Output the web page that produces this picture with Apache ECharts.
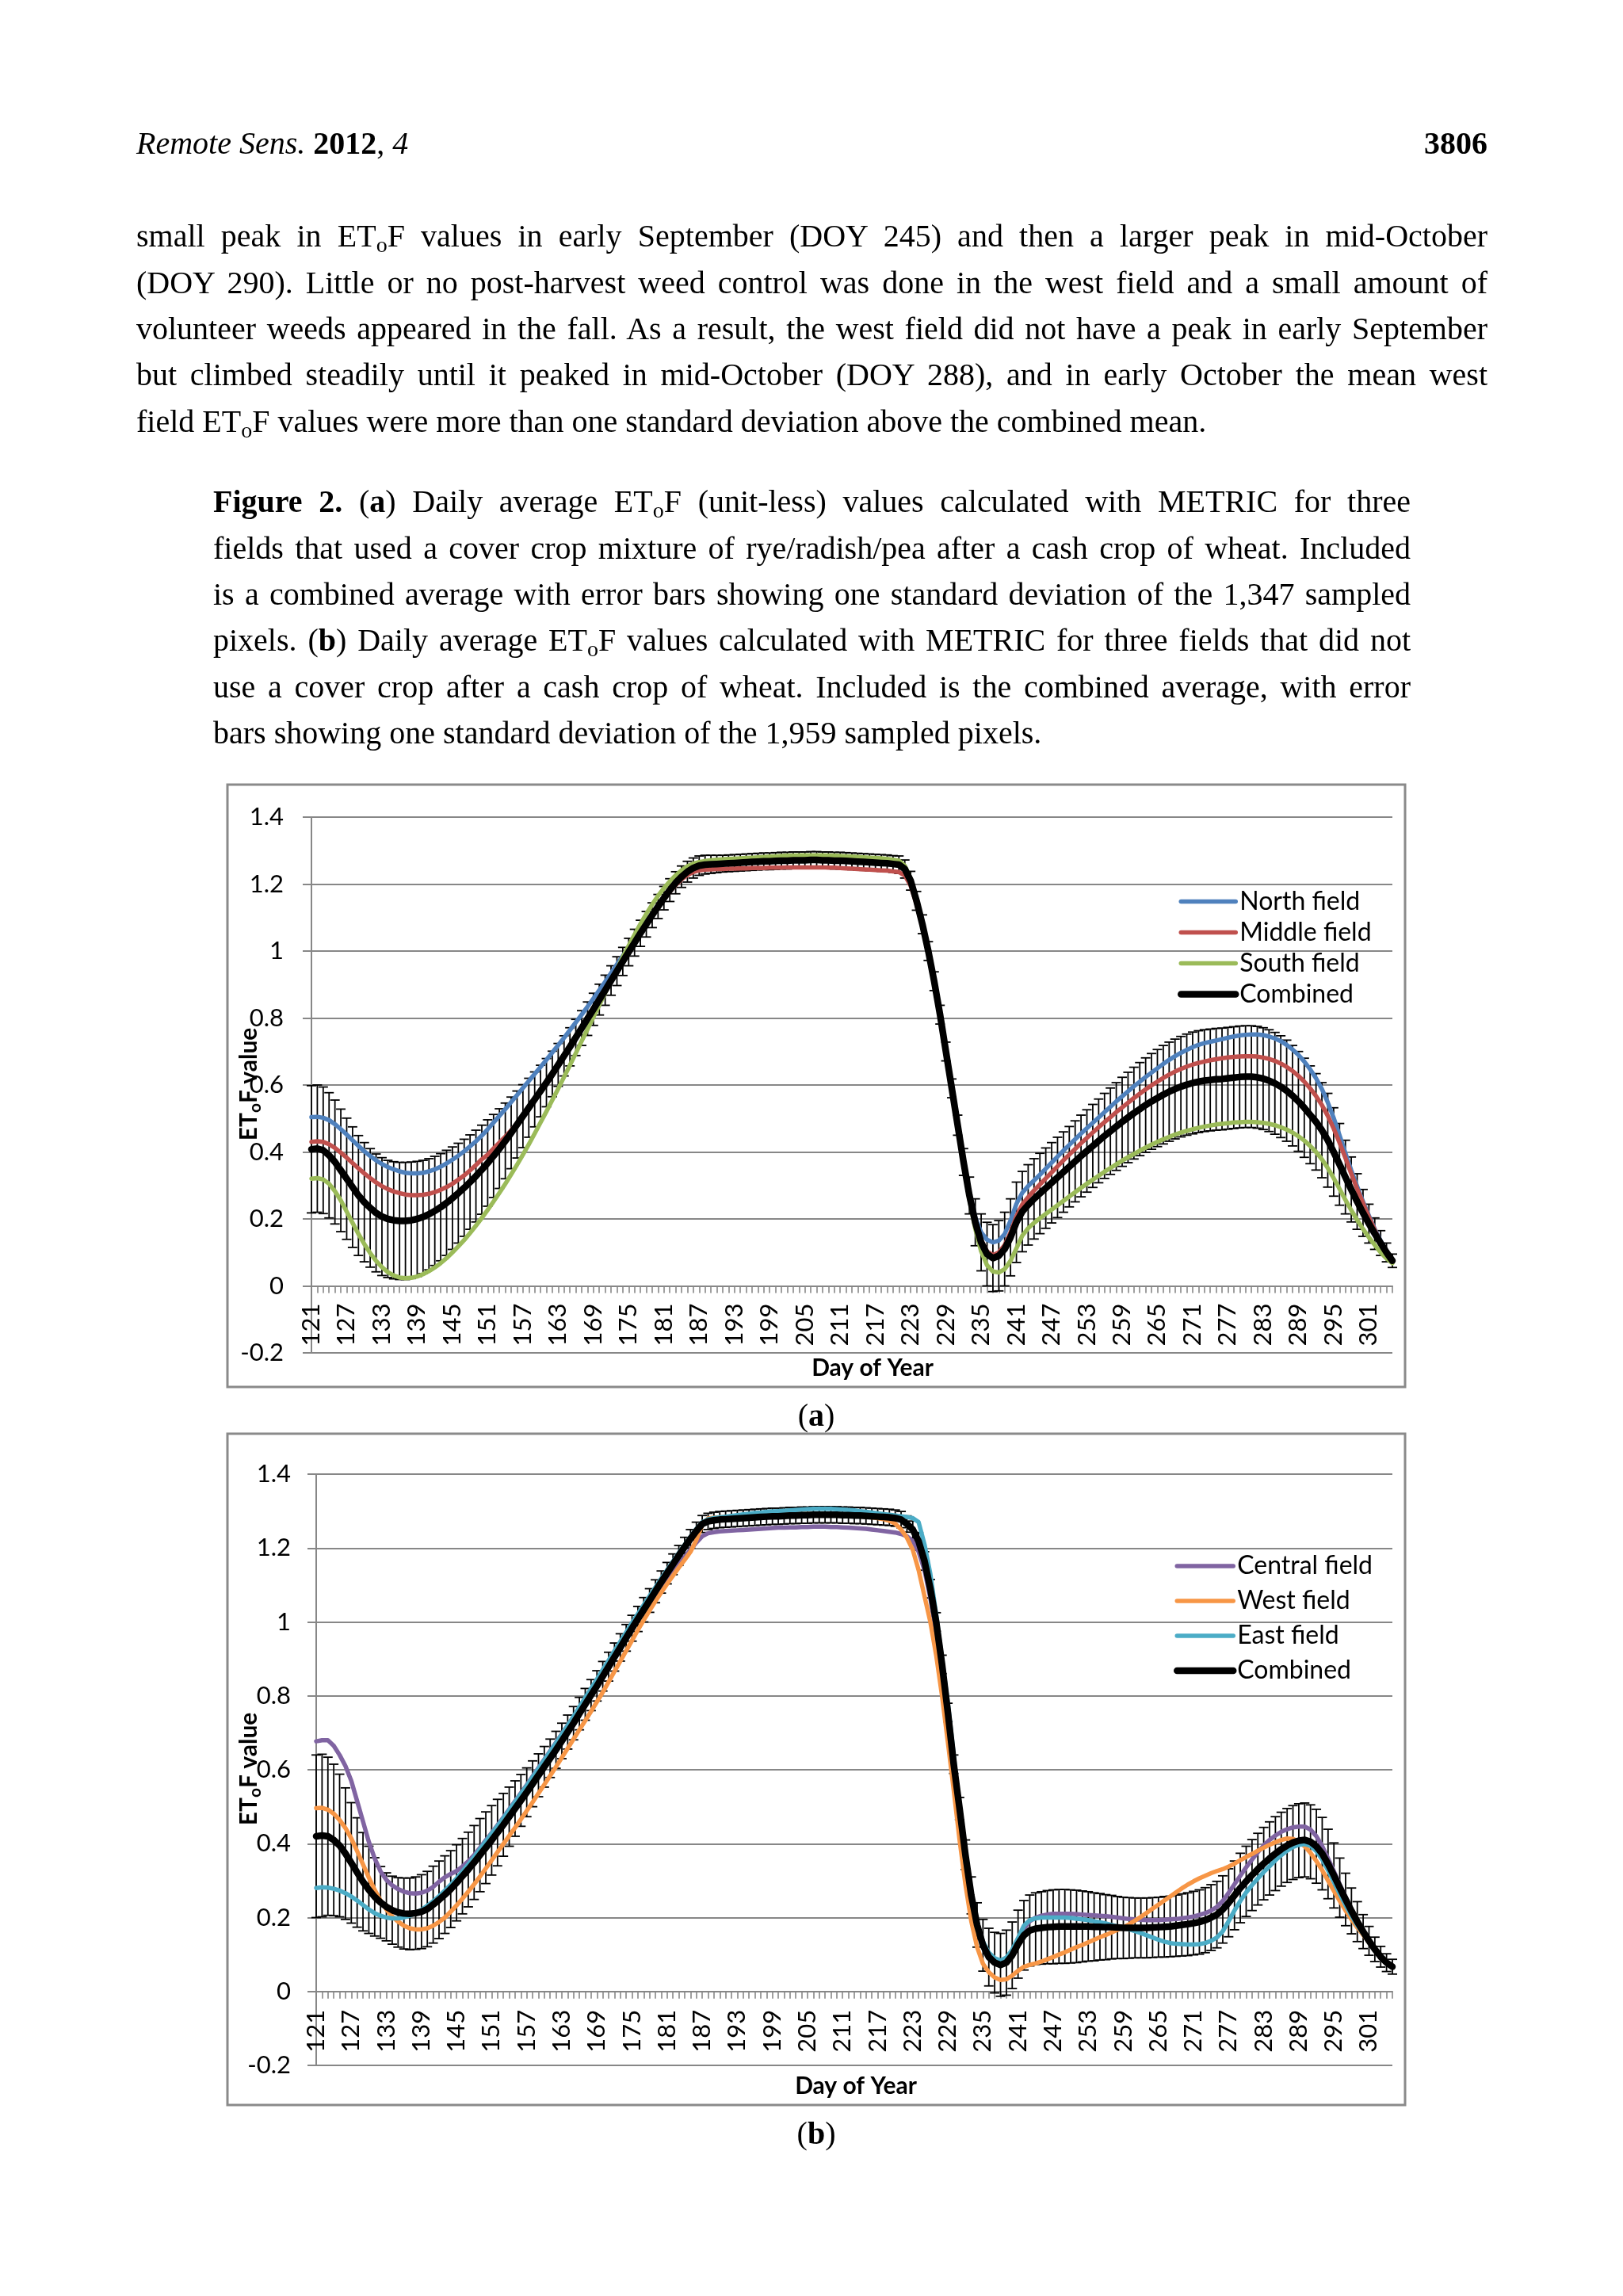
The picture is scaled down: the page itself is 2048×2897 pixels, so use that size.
<!DOCTYPE html>
<html>
<head>
<meta charset="utf-8">
<script src="https://cdn.jsdelivr.net/npm/echarts@6/dist/echarts.min.js"></script>
<style>
html,body{margin:0;padding:0;background:#fff;}
body{width:2048px;height:2897px;position:relative;overflow:hidden;}
#chart{position:absolute;left:0;top:0;width:2048px;height:2897px;}
.t{position:absolute;font-family:"Liberation Serif","Times New Roman",serif;font-size:40px;line-height:58px;color:#000;}
.j{text-align:justify;text-align-last:justify;}
.nl{text-align:left;text-align-last:left;}
.sub{font-size:0.7em;position:relative;top:0.25em;}
.p{left:172px;width:1705px;}
.c{left:269px;width:1511px;}
</style>
</head>
<body>
<div id="chart"></div>
<div class="t nl" style="left:172px;top:152px;"><i>Remote Sens.</i> <b>2012</b>, <i>4</i></div>
<div class="t" style="left:172px;width:1705px;top:152px;text-align:right;"><b>3806</b></div>

<div class="t p j" style="top:269px;">small peak in ET<span class="sub">o</span>F values in early September (DOY 245) and then a larger peak in mid-October</div>
<div class="t p j" style="top:328px;">(DOY 290). Little or no post-harvest weed control was done in the west field and a small amount of</div>
<div class="t p j" style="top:386px;">volunteer weeds appeared in the fall. As a result, the west field did not have a peak in early September</div>
<div class="t p j" style="top:444px;">but climbed steadily until it peaked in mid-October (DOY 288), and in early October the mean west</div>
<div class="t p nl" style="top:503px;">field ET<span class="sub">o</span>F values were more than one standard deviation above the combined mean.</div>

<div class="t c j" style="top:604px;"><b>Figure 2.</b> (<b>a</b>) Daily average ET<span class="sub">o</span>F (unit-less) values calculated with METRIC for three</div>
<div class="t c j" style="top:663px;">fields that used a cover crop mixture of rye/radish/pea after a cash crop of wheat. Included</div>
<div class="t c j" style="top:721px;">is a combined average with error bars showing one standard deviation of the 1,347 sampled</div>
<div class="t c j" style="top:779px;">pixels. (<b>b</b>) Daily average ET<span class="sub">o</span>F values calculated with METRIC for three fields that did not</div>
<div class="t c j" style="top:838px;">use a cover crop after a cash crop of wheat. Included is the combined average, with error</div>
<div class="t c nl" style="top:896px;">bars showing one standard deviation of the 1,959 sampled pixels.</div>

<div class="t" style="left:930px;width:200px;top:1757px;text-align:center;">(<b>a</b>)</div>
<div class="t" style="left:930px;width:200px;top:2663px;text-align:center;">(<b>b</b>)</div>

<script>
// ---------- categories (Day of Year) ----------
const days = [
121,122,123,124,125,126,127,128,129,130,
131,132,133,134,135,136,137,138,139,140,
141,142,143,144,145,146,147,148,149,150,
151,152,153,154,155,156,157,158,159,160,
161,162,163,164,165,166,167,168,169,170,
171,172,173,174,175,176,177,178,179,180,
181,182,183,184,185,186,187,188,189,190,
191,192,193,194,195,196,197,198,199,200,
201,202,203,204,205,206,207,208,209,210,
211,212,213,214,215,216,217,218,219,220,
221,222,223,224,225,226,227,228,229,230,
231,232,233,234,235,236,237,238,239,240,
241,242,243,244,245,246,247,248,249,250,
251,252,253,254,255,256,257,258,259,260,
261,262,263,264,265,266,267,268,269,270,
271,272,273,274,275,276,277,278,279,280,
281,282,283,284,285,286,287,288,289,290,
291,292,293,294,295,296,297,298,299,300,
301,302,303,304,305];

const yTicks = [-0.2, 0, 0.2, 0.4, 0.6, 0.8, 1, 1.2, 1.4];

// ---------- Chart (a) ----------
const northA = [
0.504,0.505,0.502,0.495,0.483,0.468,0.452,0.435,0.418,0.402,
0.388,0.375,0.364,0.355,0.348,0.342,0.338,0.336,0.336,0.338,
0.342,0.348,0.356,0.366,0.377,0.389,0.402,0.417,0.432,0.449,
0.468,0.488,0.508,0.528,0.549,0.57,0.591,0.612,0.633,0.654,
0.675,0.697,0.719,0.741,0.764,0.787,0.81,0.834,0.858,0.883,
0.908,0.934,0.96,0.986,1.012,1.038,1.063,1.088,1.112,1.136,
1.158,1.18,1.2,1.218,1.234,1.246,1.255,1.26,1.262,1.264,
1.266,1.267,1.268,1.269,1.27,1.271,1.272,1.273,1.274,1.275,
1.276,1.276,1.277,1.277,1.278,1.278,1.278,1.278,1.277,1.277,
1.276,1.275,1.274,1.273,1.272,1.27,1.269,1.268,1.267,1.265,
1.262,1.248,1.212,1.152,1.082,1.002,0.912,0.812,0.702,0.592,
0.482,0.375,0.28,0.205,0.16,0.138,0.13,0.135,0.155,0.195,
0.245,0.278,0.298,0.315,0.332,0.35,0.368,0.386,0.404,0.421,
0.438,0.455,0.471,0.487,0.503,0.519,0.535,0.551,0.566,0.581,
0.596,0.61,0.624,0.637,0.65,0.663,0.675,0.686,0.696,0.705,
0.713,0.72,0.725,0.729,0.733,0.737,0.741,0.745,0.748,0.75,
0.751,0.751,0.749,0.745,0.739,0.731,0.72,0.706,0.69,0.67,
0.647,0.62,0.588,0.548,0.502,0.45,0.397,0.345,0.297,0.252,
0.21,0.17,0.135,0.103,0.078];

const middleA = [
0.43,0.432,0.43,0.423,0.412,0.398,0.383,0.367,0.351,0.336,
0.322,0.309,0.298,0.289,0.282,0.277,0.273,0.271,0.271,0.272,
0.275,0.28,0.287,0.295,0.305,0.317,0.33,0.345,0.361,0.378,
0.392,0.41,0.428,0.446,0.465,0.485,0.507,0.53,0.554,0.578,
0.603,0.629,0.656,0.683,0.711,0.739,0.767,0.795,0.823,0.852,
0.88,0.909,0.937,0.966,0.994,1.022,1.05,1.077,1.104,1.13,
1.154,1.177,1.197,1.214,1.227,1.236,1.241,1.243,1.244,1.245,
1.245,1.246,1.246,1.247,1.247,1.248,1.248,1.248,1.249,1.249,
1.249,1.25,1.25,1.25,1.25,1.25,1.25,1.25,1.249,1.249,
1.248,1.247,1.246,1.245,1.244,1.243,1.242,1.241,1.24,1.238,
1.236,1.226,1.195,1.14,1.072,0.994,0.905,0.806,0.697,0.588,
0.478,0.37,0.272,0.194,0.137,0.103,0.092,0.1,0.122,0.16,
0.208,0.243,0.265,0.285,0.303,0.321,0.339,0.357,0.375,0.392,
0.409,0.426,0.442,0.458,0.474,0.489,0.504,0.519,0.533,0.547,
0.561,0.574,0.587,0.599,0.61,0.621,0.631,0.64,0.648,0.655,
0.661,0.666,0.67,0.674,0.677,0.68,0.682,0.684,0.685,0.686,
0.686,0.685,0.682,0.678,0.672,0.664,0.654,0.642,0.627,0.61,
0.59,0.567,0.54,0.508,0.47,0.428,0.382,0.335,0.29,0.247,
0.206,0.167,0.131,0.1,0.075];

const southA = [
0.32,0.322,0.318,0.305,0.283,0.255,0.222,0.188,0.155,0.125,
0.098,0.075,0.056,0.041,0.031,0.025,0.023,0.024,0.028,0.035,
0.044,0.055,0.068,0.083,0.1,0.118,0.137,0.158,0.18,0.203,
0.227,0.252,0.278,0.305,0.333,0.362,0.392,0.423,0.455,0.488,
0.521,0.555,0.589,0.624,0.659,0.695,0.731,0.767,0.803,0.839,
0.875,0.911,0.947,0.982,1.016,1.049,1.081,1.111,1.139,1.165,
1.188,1.208,1.226,1.241,1.253,1.261,1.266,1.269,1.271,1.273,
1.274,1.275,1.276,1.277,1.278,1.279,1.28,1.281,1.282,1.283,
1.284,1.285,1.285,1.286,1.286,1.286,1.286,1.286,1.285,1.285,
1.284,1.283,1.282,1.281,1.28,1.279,1.278,1.277,1.275,1.273,
1.27,1.255,1.216,1.155,1.083,1.002,0.911,0.81,0.699,0.587,
0.475,0.362,0.258,0.17,0.103,0.062,0.043,0.04,0.05,0.075,
0.112,0.15,0.172,0.188,0.202,0.215,0.228,0.241,0.254,0.267,
0.28,0.293,0.305,0.317,0.329,0.341,0.352,0.363,0.374,0.384,
0.394,0.404,0.413,0.422,0.43,0.438,0.445,0.452,0.458,0.463,
0.468,0.472,0.476,0.479,0.482,0.484,0.486,0.488,0.489,0.49,
0.49,0.489,0.487,0.484,0.48,0.474,0.467,0.458,0.447,0.434,
0.418,0.4,0.378,0.352,0.322,0.29,0.257,0.226,0.197,0.17,
0.145,0.122,0.1,0.082,0.068];

const combinedA = [
0.408,0.41,0.405,0.39,0.37,0.345,0.32,0.295,0.27,0.25,
0.233,0.218,0.207,0.2,0.196,0.194,0.194,0.196,0.2,0.206,
0.214,0.224,0.235,0.248,0.262,0.277,0.293,0.31,0.328,0.347,
0.367,0.388,0.41,0.433,0.457,0.482,0.507,0.532,0.557,0.582,
0.607,0.633,0.66,0.687,0.714,0.742,0.77,0.798,0.826,0.855,
0.883,0.912,0.94,0.969,0.997,1.025,1.053,1.08,1.107,1.133,
1.158,1.182,1.204,1.222,1.237,1.248,1.255,1.258,1.259,1.26,
1.261,1.262,1.263,1.264,1.265,1.266,1.267,1.268,1.268,1.269,
1.27,1.27,1.271,1.271,1.271,1.272,1.272,1.271,1.271,1.27,
1.27,1.269,1.268,1.267,1.266,1.265,1.264,1.263,1.262,1.26,
1.258,1.245,1.21,1.15,1.08,1.0,0.91,0.81,0.7,0.59,
0.48,0.37,0.27,0.19,0.13,0.095,0.083,0.09,0.11,0.145,
0.19,0.222,0.242,0.26,0.276,0.292,0.308,0.324,0.34,0.356,
0.372,0.388,0.403,0.418,0.433,0.448,0.462,0.476,0.49,0.503,
0.516,0.528,0.54,0.551,0.561,0.571,0.58,0.588,0.595,0.601,
0.606,0.61,0.613,0.615,0.617,0.618,0.62,0.622,0.624,0.625,
0.625,0.623,0.619,0.613,0.605,0.595,0.583,0.568,0.551,0.532,
0.511,0.49,0.465,0.435,0.4,0.363,0.325,0.288,0.252,0.218,
0.186,0.156,0.128,0.1,0.075];

const sdA = [
0.19,0.19,0.189,0.187,0.185,0.183,0.181,0.18,0.179,0.178,
0.177,0.176,0.176,0.175,0.175,0.175,0.175,0.174,0.172,0.169,
0.166,0.163,0.16,0.157,0.153,0.149,0.145,0.141,0.137,0.133,
0.129,0.124,0.119,0.113,0.107,0.1,0.094,0.088,0.082,0.077,
0.072,0.068,0.064,0.06,0.057,0.054,0.052,0.05,0.048,0.046,
0.045,0.044,0.043,0.042,0.041,0.04,0.039,0.038,0.037,0.036,
0.035,0.034,0.033,0.032,0.031,0.03,0.029,0.028,0.027,0.026,
0.025,0.025,0.025,0.025,0.025,0.025,0.025,0.025,0.025,0.025,
0.025,0.025,0.025,0.025,0.025,0.025,0.025,0.025,0.025,0.025,
0.025,0.025,0.025,0.025,0.025,0.025,0.025,0.025,0.025,0.025,
0.026,0.027,0.028,0.028,0.028,0.028,0.028,0.028,0.028,0.028,
0.03,0.04,0.055,0.07,0.085,0.095,0.1,0.105,0.11,0.115,
0.12,0.12,0.12,0.12,0.12,0.12,0.12,0.12,0.12,0.12,
0.121,0.122,0.123,0.124,0.125,0.127,0.129,0.131,0.133,0.135,
0.137,0.139,0.141,0.143,0.145,0.147,0.148,0.149,0.15,0.151,
0.152,0.152,0.152,0.152,0.152,0.152,0.152,0.152,0.152,0.152,
0.152,0.152,0.152,0.152,0.152,0.152,0.151,0.15,0.149,0.148,
0.146,0.144,0.142,0.14,0.132,0.122,0.11,0.097,0.083,0.07,
0.058,0.047,0.037,0.028,0.02];

// ---------- Chart (b) ----------
const centralB = [
0.677,0.68,0.68,0.665,0.64,0.61,0.57,0.515,0.46,0.405,
0.36,0.325,0.302,0.287,0.277,0.27,0.266,0.265,0.267,0.273,
0.283,0.297,0.309,0.318,0.326,0.338,0.352,0.369,0.389,0.409,
0.429,0.45,0.471,0.493,0.515,0.537,0.559,0.582,0.605,0.628,
0.651,0.674,0.697,0.72,0.743,0.768,0.792,0.816,0.84,0.865,
0.889,0.913,0.936,0.96,0.983,1.005,1.027,1.048,1.07,1.092,
1.113,1.134,1.155,1.176,1.196,1.215,1.232,1.24,1.243,1.245,
1.246,1.247,1.248,1.249,1.25,1.251,1.252,1.253,1.254,1.255,
1.255,1.256,1.256,1.257,1.257,1.258,1.258,1.258,1.257,1.257,
1.256,1.255,1.254,1.253,1.252,1.25,1.248,1.246,1.244,1.242,
1.238,1.232,1.218,1.19,1.14,1.065,0.97,0.855,0.725,0.59,
0.46,0.345,0.25,0.175,0.125,0.095,0.08,0.077,0.083,0.1,
0.135,0.17,0.19,0.2,0.205,0.208,0.21,0.21,0.21,0.21,
0.209,0.208,0.207,0.206,0.205,0.204,0.202,0.2,0.198,0.196,
0.195,0.194,0.193,0.193,0.193,0.194,0.195,0.196,0.198,0.2,
0.203,0.207,0.212,0.219,0.229,0.245,0.267,0.29,0.313,0.336,
0.357,0.377,0.395,0.41,0.422,0.432,0.439,0.444,0.446,0.446,
0.438,0.42,0.393,0.36,0.325,0.29,0.256,0.223,0.192,0.163,
0.138,0.115,0.095,0.078,0.067];

const westB = [
0.496,0.497,0.492,0.481,0.464,0.442,0.414,0.38,0.344,0.308,
0.275,0.246,0.222,0.203,0.189,0.178,0.171,0.168,0.168,0.171,
0.178,0.188,0.2,0.216,0.233,0.251,0.27,0.29,0.311,0.333,
0.355,0.377,0.399,0.421,0.443,0.466,0.489,0.512,0.536,0.56,
0.584,0.608,0.633,0.658,0.683,0.708,0.733,0.758,0.784,0.81,
0.838,0.866,0.894,0.922,0.95,0.978,1.005,1.031,1.056,1.08,
1.103,1.125,1.147,1.168,1.19,1.222,1.262,1.28,1.282,1.283,
1.284,1.285,1.286,1.287,1.288,1.289,1.29,1.29,1.291,1.291,
1.292,1.292,1.292,1.292,1.292,1.292,1.292,1.291,1.291,1.29,
1.289,1.288,1.287,1.286,1.285,1.283,1.281,1.278,1.274,1.266,
1.25,1.228,1.195,1.14,1.07,1.0,0.91,0.8,0.675,0.545,
0.41,0.29,0.19,0.12,0.075,0.052,0.038,0.031,0.033,0.043,
0.056,0.067,0.072,0.076,0.081,0.087,0.093,0.1,0.106,0.113,
0.12,0.126,0.133,0.14,0.147,0.153,0.16,0.167,0.174,0.182,
0.192,0.202,0.213,0.224,0.235,0.246,0.257,0.268,0.279,0.289,
0.298,0.306,0.313,0.32,0.326,0.331,0.338,0.346,0.355,0.364,
0.372,0.381,0.389,0.397,0.404,0.41,0.414,0.413,0.406,0.393,
0.375,0.353,0.328,0.3,0.272,0.245,0.219,0.195,0.173,0.153,
0.134,0.113,0.094,0.078,0.066];

const eastB = [
0.28,0.282,0.281,0.278,0.273,0.266,0.257,0.246,0.234,0.222,
0.212,0.205,0.2,0.198,0.198,0.2,0.205,0.212,0.221,0.232,
0.244,0.258,0.273,0.289,0.306,0.325,0.344,0.364,0.385,0.406,
0.427,0.448,0.469,0.491,0.513,0.535,0.557,0.58,0.603,0.626,
0.649,0.672,0.696,0.72,0.744,0.77,0.795,0.82,0.845,0.871,
0.896,0.922,0.947,0.972,0.998,1.022,1.046,1.07,1.094,1.118,
1.141,1.164,1.187,1.209,1.231,1.252,1.27,1.278,1.281,1.283,
1.285,1.287,1.289,1.291,1.293,1.295,1.296,1.298,1.299,1.3,
1.301,1.302,1.303,1.304,1.305,1.306,1.306,1.306,1.306,1.305,
1.304,1.303,1.302,1.3,1.298,1.296,1.294,1.292,1.29,1.288,
1.286,1.284,1.281,1.27,1.21,1.13,1.02,0.9,0.78,0.64,
0.49,0.35,0.26,0.185,0.135,0.105,0.09,0.084,0.092,0.113,
0.145,0.178,0.193,0.198,0.2,0.2,0.2,0.2,0.2,0.199,
0.197,0.195,0.193,0.19,0.187,0.184,0.18,0.176,0.172,0.168,
0.163,0.158,0.152,0.146,0.14,0.135,0.131,0.129,0.128,0.127,
0.127,0.128,0.131,0.137,0.146,0.163,0.19,0.219,0.245,0.268,
0.288,0.306,0.323,0.339,0.355,0.369,0.381,0.391,0.397,0.399,
0.394,0.38,0.357,0.328,0.296,0.264,0.233,0.205,0.179,0.156,
0.135,0.115,0.096,0.08,0.068];

const combinedB = [
0.42,0.422,0.42,0.41,0.395,0.373,0.348,0.322,0.297,0.275,
0.256,0.241,0.229,0.22,0.214,0.211,0.21,0.212,0.216,0.223,
0.235,0.248,0.262,0.277,0.294,0.312,0.33,0.349,0.369,0.389,
0.409,0.43,0.451,0.473,0.495,0.517,0.539,0.562,0.585,0.608,
0.631,0.654,0.678,0.702,0.726,0.752,0.777,0.802,0.827,0.853,
0.879,0.905,0.931,0.957,0.983,1.008,1.033,1.058,1.083,1.108,
1.132,1.156,1.18,1.203,1.225,1.246,1.265,1.272,1.275,1.277,
1.278,1.279,1.28,1.281,1.282,1.283,1.284,1.285,1.286,1.286,
1.287,1.288,1.288,1.289,1.289,1.29,1.29,1.29,1.29,1.29,
1.289,1.289,1.288,1.288,1.287,1.286,1.285,1.284,1.283,1.281,
1.277,1.265,1.25,1.218,1.165,1.09,1.0,0.885,0.755,0.615,
0.495,0.37,0.26,0.18,0.125,0.093,0.078,0.072,0.078,0.098,
0.128,0.152,0.165,0.17,0.172,0.174,0.175,0.176,0.176,0.176,
0.176,0.176,0.176,0.175,0.175,0.174,0.174,0.173,0.172,0.172,
0.172,0.172,0.172,0.173,0.174,0.175,0.176,0.178,0.18,0.182,
0.185,0.188,0.193,0.2,0.208,0.222,0.24,0.26,0.28,0.298,
0.315,0.331,0.346,0.36,0.373,0.385,0.395,0.403,0.408,0.41,
0.405,0.393,0.373,0.345,0.314,0.281,0.249,0.218,0.189,0.162,
0.137,0.114,0.094,0.078,0.067];

const sdB = [
0.22,0.22,0.214,0.205,0.193,0.178,0.163,0.148,0.133,0.118,
0.106,0.097,0.092,0.092,0.094,0.096,0.097,0.098,0.1,0.102,
0.104,0.105,0.105,0.104,0.103,0.102,0.101,0.1,0.099,0.097,
0.094,0.09,0.085,0.08,0.075,0.07,0.066,0.062,0.058,0.055,
0.052,0.05,0.048,0.046,0.045,0.044,0.043,0.042,0.041,0.04,
0.039,0.038,0.037,0.036,0.035,0.034,0.033,0.032,0.031,0.03,
0.029,0.028,0.027,0.026,0.025,0.024,0.023,0.022,0.022,0.022,
0.022,0.022,0.022,0.022,0.022,0.022,0.022,0.022,0.022,0.022,
0.022,0.022,0.022,0.022,0.022,0.022,0.022,0.022,0.022,0.022,
0.022,0.022,0.022,0.022,0.022,0.022,0.022,0.022,0.022,0.022,
0.022,0.022,0.023,0.024,0.025,0.025,0.025,0.025,0.025,0.025,
0.03,0.04,0.05,0.06,0.07,0.078,0.082,0.085,0.088,0.09,
0.092,0.094,0.096,0.097,0.098,0.099,0.1,0.1,0.1,0.099,
0.098,0.096,0.094,0.092,0.09,0.088,0.086,0.084,0.083,0.082,
0.081,0.081,0.081,0.081,0.081,0.082,0.082,0.083,0.084,0.085,
0.086,0.087,0.088,0.089,0.09,0.091,0.092,0.093,0.094,0.095,
0.096,0.097,0.098,0.099,0.1,0.1,0.1,0.1,0.1,0.1,
0.1,0.1,0.098,0.094,0.088,0.08,0.071,0.062,0.054,0.046,
0.039,0.033,0.028,0.024,0.02];

// ---------- build chart ----------
const FONT = 'Lato, "Open Sans", sans-serif';
const GRAY = '#878787';
const FIELD_W = 5.5, COMB_W = 8.5;
const cats = days.map(String);

function errData(mean, sd) { return mean.map((m, i) => [i, m - sd[i], m + sd[i]]); }
function renderErr(params, api) {
  const i = api.value(0);
  const top = api.coord([i, api.value(2)]);
  const bot = api.coord([i, api.value(1)]);
  const hw = 6;
  const st = { stroke: '#000', lineWidth: 1.8, fill: null };
  return { type: 'group', children: [
    { type: 'line', shape: { x1: top[0], y1: top[1], x2: bot[0], y2: bot[1] }, style: st },
    { type: 'line', shape: { x1: top[0] - hw, y1: top[1], x2: top[0] + hw, y2: top[1] }, style: st },
    { type: 'line', shape: { x1: bot[0] - hw, y1: bot[1], x2: bot[0] + hw, y2: bot[1] }, style: st }
  ]};
}
// x axis sits on the zero line: offset = distance between grid bottom (-0.2) and 0
function xAx(idx, margin, zeroOffset) {
  return {
    type: 'category', gridIndex: idx, data: cats, boundaryGap: false, position: 'bottom',
    offset: -zeroOffset,
    axisLine: { show: true, onZero: false, lineStyle: { color: GRAY, width: 2 } },
    axisTick: { show: true, interval: 0, length: 9, inside: false, lineStyle: { color: GRAY, width: 1.6 } },
    axisLabel: { interval: 5, rotate: 90, margin: margin, fontFamily: FONT, fontSize: 31, color: '#000' },
    splitLine: { show: false }
  };
}
function yAx(idx, margin) {
  return {
    type: 'value', gridIndex: idx, min: yTicks[0], max: yTicks[yTicks.length - 1], interval: 0.2,
    axisLine: { show: true, lineStyle: { color: GRAY, width: 2 } },
    axisTick: { show: true, length: 11, lineStyle: { color: GRAY, width: 2 } },
    axisLabel: { margin: margin, fontFamily: FONT, fontSize: 31, color: '#000',
      formatter: v => String(Math.round(v * 10) / 10) },
    splitLine: { show: true, lineStyle: { color: GRAY, width: 2 } }
  };
}
function lineS(name, data, color, idx, width, z) {
  return { type: 'line', name: name, data: data, xAxisIndex: idx, yAxisIndex: idx,
    symbol: 'none', smooth: false, color: color, z: z, silent: true,
    lineStyle: { color: color, width: width, cap: 'round', join: 'round' },
    itemStyle: { color: color } };
}
function legendCfg(names, left, top, lh, iw) {
  return {
    data: names.map((n, k) => ({ name: n,
      lineStyle: { width: k === names.length - 1 ? COMB_W : FIELD_W, cap: 'round' } })),
    orient: 'vertical', left: left, top: top, itemWidth: iw, itemHeight: 14,
    itemGap: 0, padding: 0, selectedMode: false,
    itemStyle: { opacity: 0, borderWidth: 0 },
    textStyle: { fontFamily: FONT, fontSize: 32, color: '#000', lineHeight: lh },
    lineStyle: { cap: 'round' } };
}
const yTitleRich = {
  b: { fontFamily: FONT, fontSize: 30, fontWeight: 'bold', color: '#000', lineHeight: 34, verticalAlign: 'top' },
  s: { fontFamily: FONT, fontSize: 21, fontWeight: 'bold', color: '#000', lineHeight: 12, verticalAlign: 'bottom' }
};

const chart = echarts.init(document.getElementById('chart'), null, { renderer: 'canvas' });
chart.setOption({
  animation: false,
  backgroundColor: 'transparent',
  grid: [
    { left: 393, top: 1031, width: 1364, height: 676, containLabel: false },
    { left: 399, top: 1860, width: 1358, height: 746, containLabel: false }
  ],
  xAxis: [xAx(0, 22, 84.5), xAx(1, 23, 93.25)],
  yAxis: [yAx(0, 35), yAx(1, 32)],
  legend: [
    legendCfg(['North field', 'Middle field', 'South field', 'Combined'], 1486, 1118, 39, 69),
    legendCfg(['Central field', 'West field', 'East field', 'Combined'], 1481, 1954, 44, 71)
  ],
  graphic: [
    { type: 'rect', shape: { x: 287, y: 990, width: 1486, height: 760 }, style: { fill: null, stroke: '#8a8a8a', lineWidth: 3 }, z: -1 },
    { type: 'rect', shape: { x: 287, y: 1809, width: 1486, height: 847 }, style: { fill: null, stroke: '#8a8a8a', lineWidth: 3 }, z: -1 },
    { type: 'text', x: 1101, y: 1726, style: { text: 'Day of Year', fontFamily: FONT, fontSize: 30, fontWeight: 'bold', fill: '#000', align: 'center', verticalAlign: 'middle' } },
    { type: 'text', x: 1080, y: 2632, style: { text: 'Day of Year', fontFamily: FONT, fontSize: 30, fontWeight: 'bold', fill: '#000', align: 'center', verticalAlign: 'middle' } },
    { type: 'text', x: 316, y: 1368, rotation: Math.PI / 2, style: { text: '{b|ET}{s|o}{b|F value}', rich: yTitleRich, align: 'center', verticalAlign: 'middle' } },
    { type: 'text', x: 316, y: 2232, rotation: Math.PI / 2, style: { text: '{b|ET}{s|o}{b|F value}', rich: yTitleRich, align: 'center', verticalAlign: 'middle' } }
  ],
  series: [
    { type: 'custom', name: 'errA', xAxisIndex: 0, yAxisIndex: 0, data: errData(combinedA, sdA),
      encode: { x: 0, y: [1, 2] }, renderItem: renderErr, z: 1, silent: true },
    lineS('North field', northA, '#4F81BD', 0, FIELD_W, 2),
    lineS('Middle field', middleA, '#C0504D', 0, FIELD_W, 2),
    lineS('South field', southA, '#9BBB59', 0, FIELD_W, 2),
    lineS('Combined', combinedA, '#000000', 0, COMB_W, 3),
    { type: 'custom', name: 'errB', xAxisIndex: 1, yAxisIndex: 1, data: errData(combinedB, sdB),
      encode: { x: 0, y: [1, 2] }, renderItem: renderErr, z: 1, silent: true },
    lineS('Central field', centralB, '#8064A2', 1, FIELD_W, 2),
    lineS('West field', westB, '#F79646', 1, FIELD_W, 2),
    lineS('East field', eastB, '#4BACC6', 1, FIELD_W, 2),
    lineS('Combined', combinedB, '#000000', 1, COMB_W, 3)
  ]
});
</script>
</body>
</html>
